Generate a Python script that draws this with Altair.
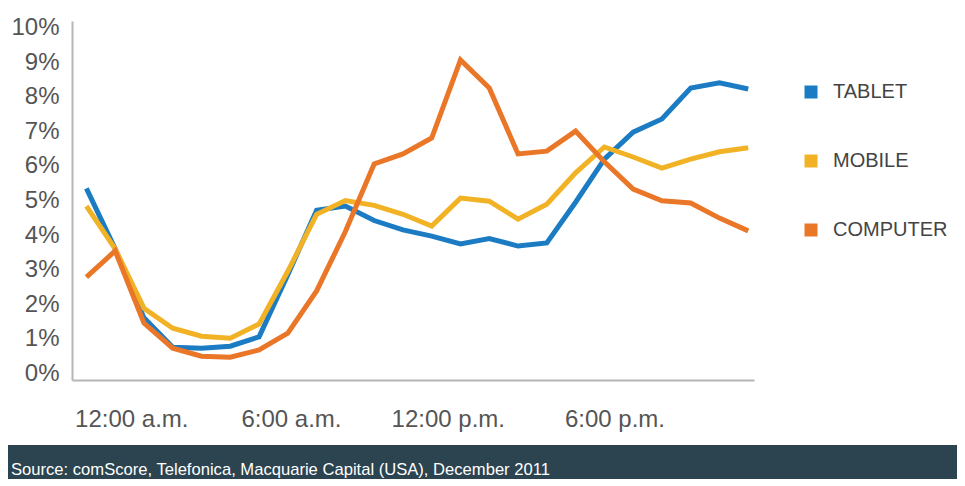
import altair as alt
import pandas as pd

hours = list(range(24))
series = ["TABLET", "MOBILE", "COMPUTER"]
colors = ["#1b7cc3", "#f2b226", "#ea7628"]

tablet = [5.35, 3.6, 1.6, 0.75, 0.72, 0.78, 1.05, 2.85, 4.72, 4.84, 4.42, 4.15,
          3.97, 3.74, 3.9, 3.68, 3.77, 4.95, 6.2, 6.98, 7.36, 8.26, 8.41, 8.23]
mobile = [4.84, 3.6, 1.88, 1.3, 1.07, 1.01, 1.42, 2.95, 4.6, 5.0, 4.86, 4.6,
          4.26, 5.07, 4.98, 4.46, 4.89, 5.8, 6.55, 6.26, 5.94, 6.2, 6.41, 6.53]
computer = [2.78, 3.54, 1.45, 0.72, 0.49, 0.46, 0.67, 1.16, 2.38, 4.1, 6.06, 6.35,
            6.81, 9.07, 8.26, 6.35, 6.43, 7.01, 6.12, 5.33, 4.99, 4.93, 4.49, 4.12]

y_ticks = list(range(11))
x_tick_hours = [1.56, 7.11, 12.56, 18.35]
x_tick_labels = ["12:00 a.m.", "6:00 a.m.", "12:00 p.m.", "6:00 p.m."]
footer_text = "Source: comScore, Telefonica, Macquarie Capital (USA), December 2011"

rows = []
for name, vals in zip(series, [tablet, mobile, computer]):
    for h, v in zip(hours, vals):
        rows.append({"hour": h, "share": v, "device": name})
df = pd.DataFrame(rows)

label_expr = " : ".join(
    f"datum.value < {x_tick_hours[i] + 0.5} ? '{x_tick_labels[i]}'" for i in range(len(x_tick_hours) - 1)
) + f" : '{x_tick_labels[-1]}'"

FONT = "Liberation Sans"

lines = alt.Chart(df).mark_line(strokeWidth=5).encode(
    x=alt.X("hour:Q",
            scale=alt.Scale(domain=[-0.5, 23.2], nice=False, zero=False),
            axis=alt.Axis(values=x_tick_hours, labelExpr=label_expr, title=None,
                          ticks=False, tickSize=0, grid=False, domainColor="#b5b5b5",
                          domainWidth=2, labelFontSize=24, labelColor="#555555",
                          labelFont=FONT, labelPadding=27, labelFlush=False)),
    y=alt.Y("share:Q",
            scale=alt.Scale(domain=[-0.2, 10.2], nice=False, zero=False),
            axis=alt.Axis(values=y_ticks, labelExpr="datum.value + '%'", title=None,
                          ticks=False, tickSize=0, grid=False, domainColor="#b5b5b5",
                          domainWidth=2, labelFontSize=24, labelColor="#555555",
                          labelFont=FONT, labelPadding=13, minExtent=64, maxExtent=64)),
    color=alt.Color("device:N",
                    scale=alt.Scale(domain=series, range=colors),
                    sort=series,
                    legend=alt.Legend(title=None, orient="none", legendX=726, legendY=58,
                                      symbolType="stroke", symbolSize=169,
                                      symbolStrokeWidth=13, labelFontSize=20,
                                      labelFont=FONT, labelColor="#444444",
                                      labelOffset=9, rowPadding=17)),
)

footer_data = alt.Data(values=[{"t": footer_text}])
footer_bg = alt.Chart(footer_data).mark_rect(color="#2b4450").encode(
    x=alt.value(-64), x2=alt.value(885), y=alt.value(424), y2=alt.value(458)
)
footer_txt = alt.Chart(footer_data).mark_text(
    align="left", baseline="middle", color="white", font=FONT, fontSize=16.6
).encode(x=alt.value(-61), y=alt.value(449), text="t:N")

chart = alt.layer(lines, footer_bg, footer_txt).properties(
    width=682, height=359,
    padding={"left": 0, "top": 7, "right": 0, "bottom": 0},
    background="white",
).configure_view(stroke=None)

chart.save("out.html", embed_options={"renderer": "svg", "actions": False})
